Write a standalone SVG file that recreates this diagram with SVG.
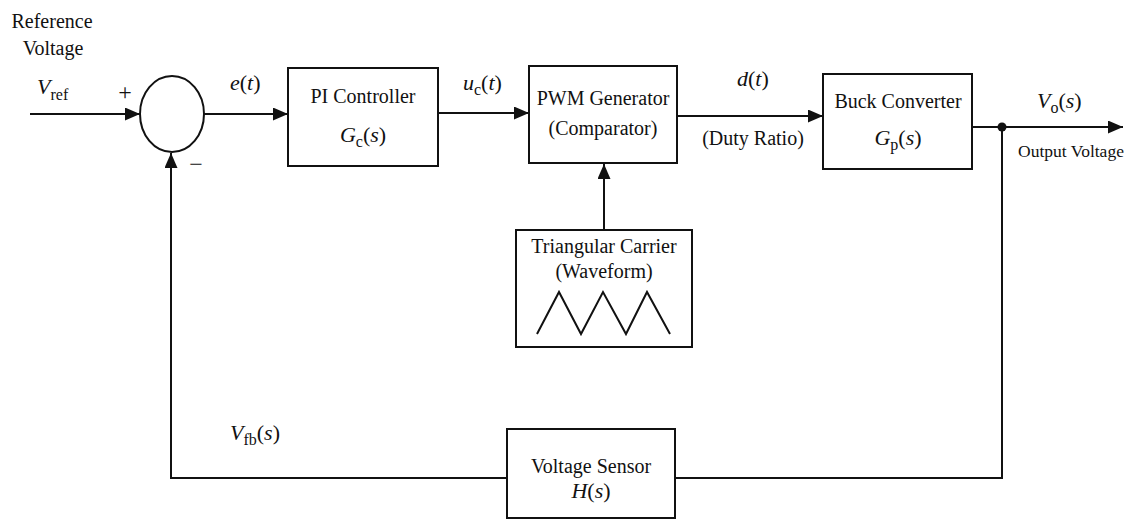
<svg xmlns="http://www.w3.org/2000/svg" width="1133" height="520" viewBox="0 0 1133 520">
<style>
text{font-family:"Liberation Serif","Times New Roman",serif;fill:#111;}
.box{fill:#fff;stroke:#111;stroke-width:2;}
.ln{fill:none;stroke:#111;stroke-width:2;}
.lbl{font-size:20px;}
.m{font-size:22px;}
.i{font-style:italic;}
.sub{font-size:16px;}
</style>
<defs>
<marker id="ah" markerUnits="userSpaceOnUse" markerWidth="16" markerHeight="14" refX="15" refY="6.5" orient="auto">
<path d="M0,0 L15,6.5 L0,13 z" fill="#111"/>
</marker>
</defs>
<rect width="1133" height="520" fill="#fff"/>

<g id="connectors">
<line class="ln" x1="30" y1="114" x2="140" y2="114" marker-end="url(#ah)"/>
<line class="ln" x1="204" y1="114" x2="288" y2="114" marker-end="url(#ah)"/>
<line class="ln" x1="438" y1="113" x2="529" y2="113" marker-end="url(#ah)"/>
<line class="ln" x1="677" y1="116" x2="823" y2="116" marker-end="url(#ah)"/>
<line class="ln" x1="972" y1="127" x2="1123" y2="127" marker-end="url(#ah)"/>
<line class="ln" x1="604" y1="230" x2="604" y2="164" marker-end="url(#ah)"/>
<polyline class="ln" points="1002,127 1002,478 675,478"/>
<polyline class="ln" points="507,478 171,478 171,153" marker-end="url(#ah)"/>
<circle cx="1002" cy="127" r="4.5" fill="#111"/>
</g>

<g id="labels">
<text class="lbl" x="52" y="28" text-anchor="middle" font-size="21">Reference</text>
<text class="lbl" x="53" y="55" text-anchor="middle" font-size="21">Voltage</text>
<text class="m" x="37" y="94"><tspan class="i">V</tspan><tspan class="sub" dy="6">ref</tspan></text>
<text x="125" y="100" font-size="24" text-anchor="middle">+</text>
<text x="196" y="172" font-size="24" text-anchor="middle">−</text>
<text class="m" x="230" y="90"><tspan class="i">e</tspan>(<tspan class="i">t</tspan>)</text>
<text class="m" x="463" y="90"><tspan class="i">u</tspan><tspan class="sub" dy="5">c</tspan><tspan dy="-5">(</tspan><tspan class="i">t</tspan>)</text>
<text class="m" x="737" y="86"><tspan class="i">d</tspan>(<tspan class="i">t</tspan>)</text>
<text class="lbl" x="753" y="145" text-anchor="middle">(Duty Ratio)</text>
<text class="m" x="1037" y="108"><tspan class="i">V</tspan><tspan class="sub" dy="5">o</tspan><tspan dy="-5">(</tspan><tspan class="i">s</tspan>)</text>
<text x="1071" y="157" font-size="17.5" text-anchor="middle">Output Voltage</text>
<text class="m" x="230" y="440"><tspan class="i">V</tspan><tspan class="sub" dy="5">fb</tspan><tspan dy="-5">(</tspan><tspan class="i">s</tspan>)</text>
</g>

<g id="sum">
<ellipse class="box" cx="172" cy="114" rx="32" ry="38"/>
</g>

<g id="pi">
<rect class="box" x="288" y="68" width="150" height="98"/>
<text class="lbl" x="363" y="103" text-anchor="middle">PI Controller</text>
<text class="m" x="363" y="142" text-anchor="middle"><tspan class="i">G</tspan><tspan class="sub" dy="5">c</tspan><tspan dy="-5">(</tspan><tspan class="i">s</tspan>)</text>
</g>

<g id="pwm">
<rect class="box" x="529" y="66" width="148" height="97"/>
<text class="lbl" x="603" y="105" text-anchor="middle" font-size="19">PWM Generator</text>
<text class="lbl" x="603" y="135" text-anchor="middle">(Comparator)</text>
</g>

<g id="buck">
<rect class="box" x="823" y="74" width="149" height="95"/>
<text class="lbl" x="898" y="108" text-anchor="middle" font-size="19.5">Buck Converter</text>
<text class="m" x="898" y="145" text-anchor="middle"><tspan class="i">G</tspan><tspan class="sub" dy="5">p</tspan><tspan dy="-5">(</tspan><tspan class="i">s</tspan>)</text>
</g>

<g id="carrier">
<rect class="box" x="516" y="230" width="176" height="117"/>
<text class="lbl" x="604" y="253" text-anchor="middle" font-size="19">Triangular Carrier</text>
<text class="lbl" x="604" y="278" text-anchor="middle" font-size="19">(Waveform)</text>
<polyline class="ln" stroke-width="1.8" points="537,334 559,292 581,334 603,292 626,334 647,292 670,334"/>
</g>

<g id="sensor">
<rect class="box" x="507" y="429" width="168" height="89"/>
<text class="lbl" x="591" y="473" text-anchor="middle">Voltage Sensor</text>
<text class="m" x="591" y="498" text-anchor="middle"><tspan class="i">H</tspan>(<tspan class="i">s</tspan>)</text>
</g>
</svg>
